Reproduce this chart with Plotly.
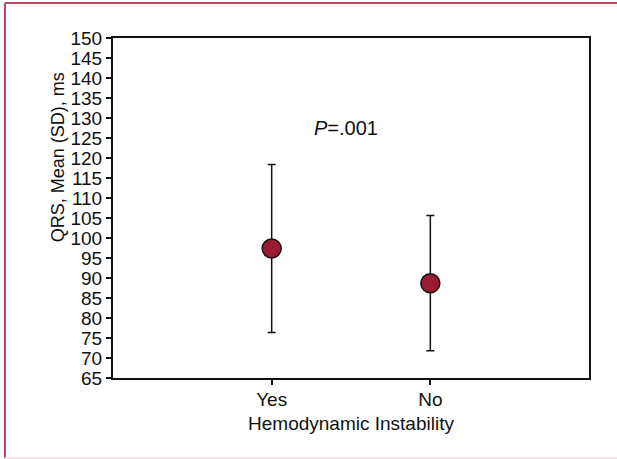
import plotly.graph_objects as go

categories = ["Yes", "No"]
means = [97.4, 88.7]
sds = [21.0, 16.9]
p_label = "<i>P</i>=.001"
y_ticks = list(range(65, 151, 5))

FONT = "Liberation Sans, Arial, sans-serif"

fig = go.Figure()
fig.add_trace(go.Scatter(
    x=categories, y=means, mode="markers",
    marker=dict(size=19, color="#9b1b33", line=dict(color="#111111", width=1.5)),
    error_y=dict(type="data", array=sds, visible=True, color="#111111", thickness=1.5, width=4),
    showlegend=False,
))

fig.update_layout(
    width=617, height=459,
    margin=dict(l=113, r=28, t=38, b=81),
    paper_bgcolor="white", plot_bgcolor="white",
    font=dict(family=FONT, size=19, color="#111111"),
    xaxis=dict(
        type="category", range=[-1, 2], showgrid=False, zeroline=False,
        showline=True, linecolor="#111111", linewidth=2, mirror=True,
        ticks="outside", ticklen=5, tickwidth=1.5, tickcolor="#111111",
        ticklabelstandoff=-2,
        title=dict(text="Hemodynamic Instability", font=dict(size=19), standoff=8),
    ),
    yaxis=dict(
        range=[65, 150], tickvals=y_ticks, showgrid=False, zeroline=False,
        showline=True, linecolor="#111111", linewidth=2, mirror=True,
        ticks="outside", ticklen=5, tickwidth=1.5, tickcolor="#111111",
        ticklabelstandoff=0,
    ),
    annotations=[
        dict(text=p_label, x=0.47, y=127.6, xref="x", yref="y", showarrow=False,
             font=dict(size=20)),
        dict(text="QRS, Mean (SD), ms", x=-0.14, y=0.65, xref="paper", yref="paper",
             textangle=-90, showarrow=False, font=dict(size=18)),
    ],
    shapes=[
        dict(type="line", xref="paper", yref="paper", x0=-0.2269, x1=-0.2269, y0=-0.235, y1=1.103,
             line=dict(color="#b94a62", width=2)),
        dict(type="line", xref="paper", yref="paper", x0=-0.2269, x1=1.1, y0=1.103, y1=1.103,
             line=dict(color="#b94a62", width=2)),
        dict(type="line", xref="paper", yref="paper", x0=-0.2269, x1=1.1, y0=-0.235, y1=-0.235,
             line=dict(color="#f3e2e6", width=2)),
    ],
)

fig.write_html("out.html", config={"displayModeBar": False},
               post_script="document.body.style.margin='0';")
